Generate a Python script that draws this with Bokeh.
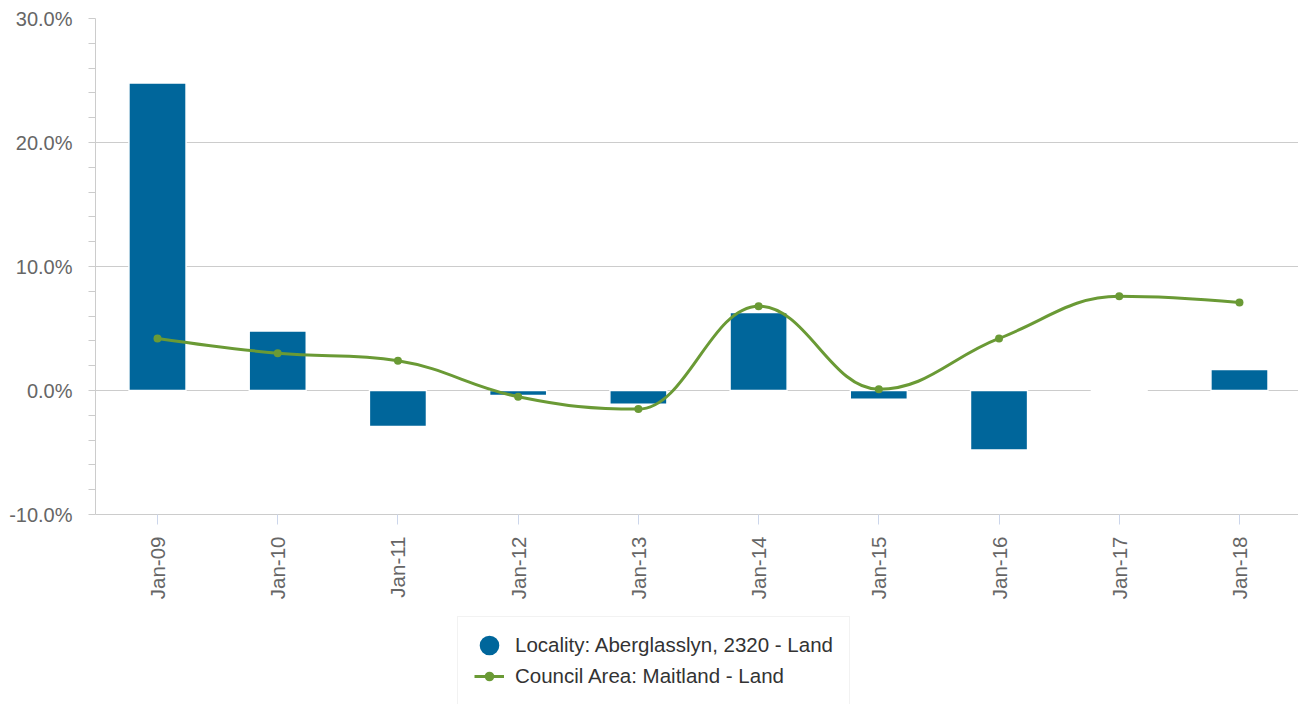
import math
from bokeh.plotting import figure
from bokeh.layouts import column
from bokeh.models import (FixedTicker, PrintfTickFormatter, Legend, LegendItem,
                          ColumnDataSource, Range1d)
from bokeh.embed import file_html
from bokeh.resources import INLINE

# ---------------- data ----------------
categories = ["Jan-09", "Jan-10", "Jan-11", "Jan-12", "Jan-13",
              "Jan-14", "Jan-15", "Jan-16", "Jan-17", "Jan-18"]
locality = [24.8, 4.8, -2.9, -0.4, -1.1, 6.3, -0.7, -4.8, 0.0, 1.7]
council = [4.2, 3.0, 2.4, -0.5, -1.5, 6.8, 0.1, 4.2, 7.6, 7.1]
y_major = [-10, 0, 10, 20, 30]
locality_name = "Locality: Aberglasslyn, 2320 - Land"
council_name = "Council Area: Maitland - Land"

BLUE = "#00669b"
GREEN = "#6a9a35"
FONT = "Liberation Sans"
NAN = float("nan")

xs = list(range(len(categories)))

# ---------------- spline (Highcharts-style bezier controls) ----------------
smoothing = 1.5
denom = smoothing + 1
n = len(xs)
lc = [None] * n
rc = [None] * n
for i in range(1, n - 1):
    px, py = xs[i], council[i]
    lx, ly = xs[i - 1], council[i - 1]
    nx, ny = xs[i + 1], council[i + 1]
    lcx = (smoothing * px + lx) / denom
    lcy = (smoothing * py + ly) / denom
    rcx = (smoothing * px + nx) / denom
    rcy = (smoothing * py + ny) / denom
    if rcx != lcx:
        corr = ((rcy - lcy) * (rcx - px)) / (rcx - lcx) + py - rcy
        lcy += corr
        rcy += corr
    if lcy > ly and lcy > py:
        lcy = max(ly, py)
        rcy = 2 * py - lcy
    elif lcy < ly and lcy < py:
        lcy = min(ly, py)
        rcy = 2 * py - lcy
    if rcy > ny and rcy > py:
        rcy = max(ny, py)
        lcy = 2 * py - rcy
    elif rcy < ny and rcy < py:
        rcy = min(ny, py)
        lcy = 2 * py - rcy
    lc[i] = (lcx, lcy)
    rc[i] = (rcx, rcy)

seg = dict(x0=[], y0=[], x1=[], y1=[], cx0=[], cy0=[], cx1=[], cy1=[])
for i in range(1, n):
    a = rc[i - 1] if rc[i - 1] is not None else (xs[i - 1], council[i - 1])
    b = lc[i] if lc[i] is not None else (xs[i], council[i])
    seg["x0"].append(xs[i - 1]); seg["y0"].append(council[i - 1])
    seg["x1"].append(xs[i]); seg["y1"].append(council[i])
    seg["cx0"].append(a[0]); seg["cy0"].append(a[1])
    seg["cx1"].append(b[0]); seg["cy1"].append(b[1])

# ---------------- main figure ----------------
p = figure(width=1298, height=602,
           x_range=Range1d(-0.5157, 9.491), y_range=Range1d(-10, 30),
           output_backend="svg", toolbar_location=None,
           min_border_left=95, min_border_right=0,
           min_border_top=18, min_border_bottom=86)
p.outline_line_color = None
p.background_fill_color = "white"
p.border_fill_color = "white"

# grid
p.xgrid.visible = False
p.ygrid.ticker = FixedTicker(ticks=y_major)
p.ygrid.grid_line_color = "#cccccc"
p.ygrid.grid_line_width = 1

# y axis
yminor = [v for v in range(-10, 31, 2) if v not in y_major]
p.yaxis.ticker = FixedTicker(ticks=y_major, minor_ticks=yminor)
p.yaxis.formatter = PrintfTickFormatter(format="%.1f%%")
p.yaxis.axis_line_color = "#cccccc"
p.yaxis.major_tick_line_color = "#cccccc"
p.yaxis.minor_tick_line_color = "#cccccc"
p.yaxis.major_tick_in = 0
p.yaxis.major_tick_out = 7
p.yaxis.minor_tick_in = 0
p.yaxis.minor_tick_out = 7
p.yaxis.major_label_standoff = 16
p.yaxis.major_label_text_font = FONT
p.yaxis.major_label_text_font_size = "20px"
p.yaxis.major_label_text_color = "#666666"

# x axis
p.xaxis.ticker = FixedTicker(ticks=xs, minor_ticks=[])
p.xaxis.major_label_overrides = {x: c for x, c in zip(xs, categories)}
p.xaxis.major_label_orientation = math.pi / 2
p.xaxis.axis_line_color = "#cccccc"
p.xaxis.major_tick_line_color = "#ccd6eb"
p.xaxis.major_tick_in = 0
p.xaxis.major_tick_out = 10
p.xaxis.minor_tick_line_color = None
p.xaxis.major_label_standoff = 12
p.xaxis.major_label_text_font = FONT
p.xaxis.major_label_text_font_size = "20.5px"
p.xaxis.major_label_text_color = "#666666"

# bars
bar_src = ColumnDataSource(dict(x=xs, top=locality))
p.vbar(x="x", top="top", bottom=0, width=0.475, source=bar_src,
       fill_color=BLUE, line_color="white", line_width=1.5)

# spline line + markers
p.bezier(x0="x0", y0="y0", x1="x1", y1="y1", cx0="cx0", cy0="cy0",
         cx1="cx1", cy1="cy1", source=ColumnDataSource(seg),
         line_color=GREEN, line_width=3, line_cap="round")
p.scatter(x=xs, y=council, marker="circle", size=8,
          fill_color=GREEN, line_color=GREEN, line_width=0)

# ---------------- legend strip (second figure) ----------------
q = figure(width=1298, height=102, x_range=Range1d(0, 1), y_range=Range1d(0, 1),
           output_backend="svg", toolbar_location=None,
           x_axis_location=None, y_axis_location=None,
           min_border_left=0, min_border_right=0,
           min_border_top=0, min_border_bottom=0)
q.outline_line_color = None
q.xgrid.visible = False
q.ygrid.visible = False
q.background_fill_color = "white"
q.border_fill_color = "white"

leg_circle = q.scatter(x=[NAN], y=[NAN], marker="circle", fill_color=BLUE,
                       line_color=BLUE, line_width=10)
leg_line = q.line(x=[NAN, NAN], y=[NAN, NAN], line_color=GREEN, line_width=3)
leg_dot = q.scatter(x=[NAN], y=[NAN], marker="circle", fill_color=GREEN,
                    line_color=GREEN, line_width=0)

legend = Legend(items=[LegendItem(label=locality_name, renderers=[leg_circle]),
                       LegendItem(label=council_name, renderers=[leg_line, leg_dot])],
                location=(362, -1), orientation="vertical",
                glyph_width=30, glyph_height=24, label_height=24,
                label_standoff=11, spacing=7, padding=16, margin=0,
                border_line_color="#e6e6e6", border_line_width=1,
                background_fill_color="white", background_fill_alpha=1.0,
                label_text_font=FONT, label_text_font_size="20.5px",
                label_text_color="#333333")
q.add_layout(legend)

layout = column(p, q, spacing=0)
open("out.html", "w").write(file_html(layout, INLINE))
